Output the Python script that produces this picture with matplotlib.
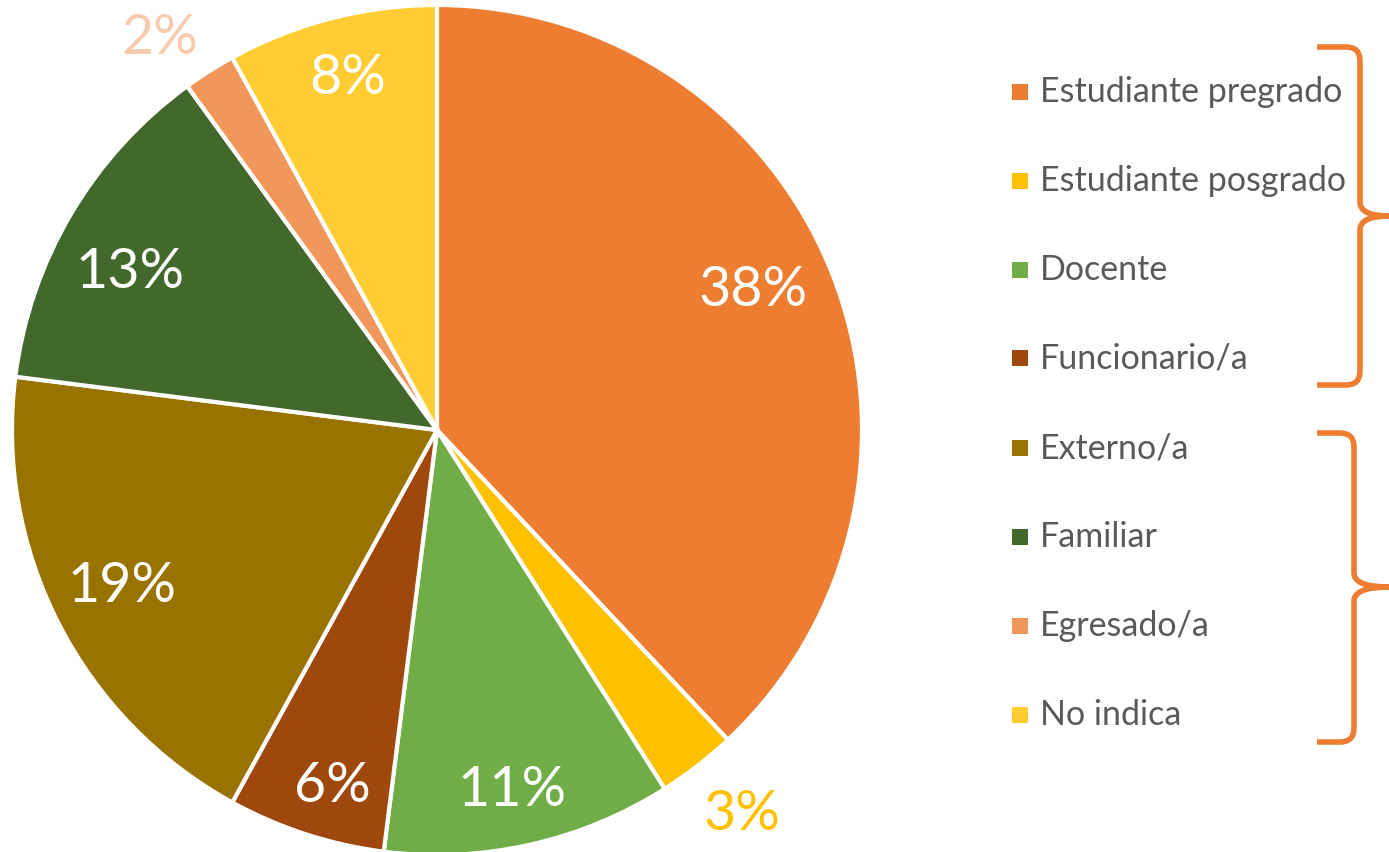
import matplotlib
matplotlib.use("Agg")
import matplotlib.pyplot as plt
from matplotlib.path import Path
from matplotlib.patches import PathPatch, Rectangle

categories = ["Estudiante pregrado", "Estudiante posgrado", "Docente", "Funcionario/a",
              "Externo/a", "Familiar", "Egresado/a", "No indica"]
values = [38, 3, 11, 6, 19, 13, 2, 8]
colors = ["#ED7D31", "#FFC000", "#70AD47", "#9E480E", "#997300", "#43682B", "#F1975A", "#FFCD33"]
label_colors = ["white", "#FFC000", "white", "white", "white", "white", "#F8CBAD", "white"]
# label positions in pixel space (x, y from top)
label_pos = [(753, 290), (742, 815), (512, 790), (332, 787), (122, 587), (130, 272), (160, 38), (348, 78)]

W, H = 1389, 852
FONT = "Lato"
fig = plt.figure(figsize=(W / 100, H / 100), dpi=100)
ax = fig.add_axes([0, 0, 1, 1])
ax.set_xlim(0, W)
ax.set_ylim(0, H)
ax.set_aspect("equal")
ax.axis("off")

cx, cy, r = 437, H - 430, 425
wedges, _ = ax.pie(values, colors=colors, startangle=90, counterclock=False,
                   center=(cx, cy), radius=r, frame=True,
                   wedgeprops=dict(edgecolor="white", linewidth=3))
ax.set_xlim(0, W)
ax.set_ylim(0, H)
ax.axis("off")

for v, (x, y), c in zip(values, label_pos, label_colors):
    ax.text(x, H - y, f"{v}%", color=c, fontsize=40, family=FONT,
            ha="center", va="center")

# legend
leg_y = [92, 181, 270, 358, 448, 537, 626, 715]
for name, col, y in zip(categories, colors, leg_y):
    ax.add_patch(Rectangle((1012, H - y - 8), 16, 16, facecolor=col, edgecolor="none"))
    ax.text(1040, H - y, name, color="#595959", fontsize=24.5, family=FONT,
            ha="left", va="center")

def brace(x_left, x_vert, x_tip, y_top, y_mid, y_bot, col="#ED7D31"):
    k = 14
    verts = [
        (x_left, H - y_top),
        (x_vert - k, H - y_top),
        (x_vert, H - y_top), (x_vert, H - y_top - k),
        (x_vert, H - y_mid + k),
        (x_vert, H - y_mid), (x_tip, H - y_mid),
        (x_vert, H - y_mid), (x_vert, H - y_mid - k),
        (x_vert, H - y_bot + k),
        (x_vert, H - y_bot), (x_vert - k, H - y_bot),
        (x_left, H - y_bot),
    ]
    codes = [Path.MOVETO, Path.LINETO, Path.CURVE3, Path.CURVE3, Path.LINETO,
             Path.CURVE3, Path.CURVE3, Path.CURVE3, Path.CURVE3, Path.LINETO,
             Path.CURVE3, Path.CURVE3, Path.LINETO]
    ax.add_patch(PathPatch(Path(verts, codes), facecolor="none", edgecolor=col,
                           linewidth=4, capstyle="butt", joinstyle="round"))

brace(1317, 1360, 1389, 47, 216, 385)
brace(1317, 1354, 1389, 433, 587, 742)

fig.savefig("out.png", dpi=100, facecolor="white")
